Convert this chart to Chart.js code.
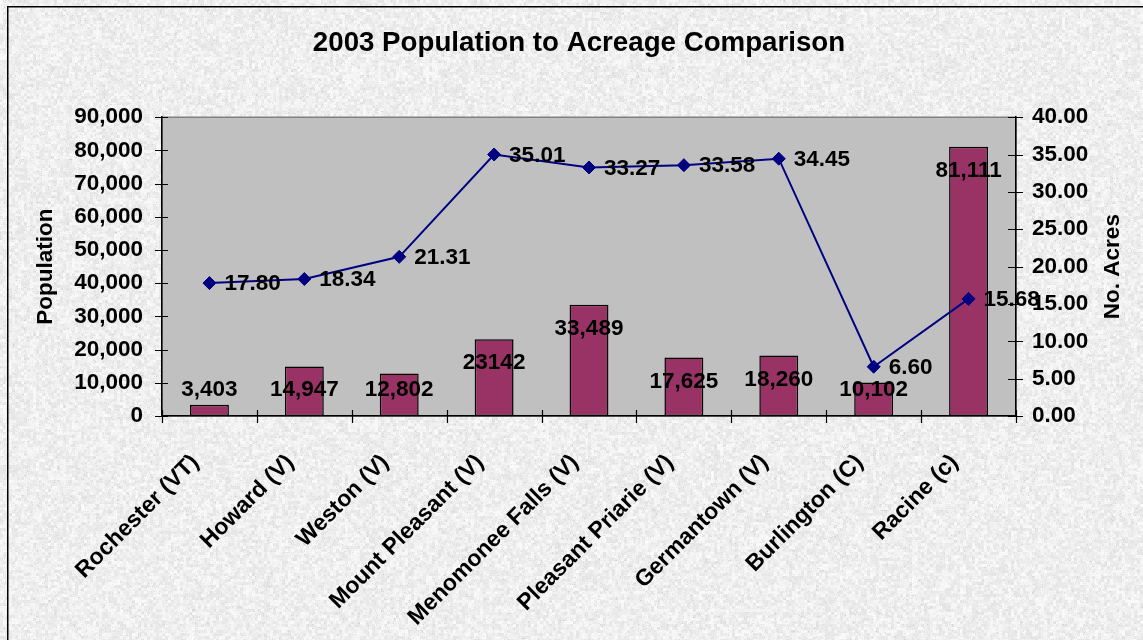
<!DOCTYPE html>
<html>
<head>
<meta charset="utf-8">
<title>2003 Population to Acreage Comparison</title>
<script src="https://cdn.jsdelivr.net/npm/chart.js@4.4.1/dist/chart.umd.min.js"></script>
<style>
  html, body { margin: 0; padding: 0; overflow: hidden; background: #ececec; }
</style>
</head>
<body>
<canvas id="myChart" width="1143" height="640"></canvas>
<script>
const places = ['Rochester (VT)', 'Howard (V)', 'Weston (V)', 'Mount Pleasant (V)', 'Menomonee Falls (V)',
    'Pleasant Priarie (V)', 'Germantown (V)', 'Burlington (C)', 'Racine (c)'];
const population = [3403, 14947, 12802, 23142, 33489, 17625, 18260, 10102, 81111];
const acres = [17.80, 18.34, 21.31, 35.01, 33.27, 33.58, 34.45, 6.60, 15.68];
// Mount Pleasant's figure was typed without a thousands separator
const noSeparator = ['Mount Pleasant (V)'];

const popTicks = [0, 10000, 20000, 30000, 40000, 50000, 60000, 70000, 80000, 90000];
const acreTicks = [0, 5, 10, 15, 20, 25, 30, 35, 40];

const FONT = "'Liberation Sans', Arial, sans-serif";

// granite style backdrop, built once
let seed = 20030;
function rnd() {
    seed = (seed * 1664525 + 1013904223) >>> 0;
    return seed / 4294967296;
}
function makeGranite(w, h) {
    const c = document.createElement('canvas');
    c.width = w; c.height = h;
    const g = c.getContext('2d');
    const img = g.createImageData(w, h);
    const cw = Math.ceil(w / 3) + 1;
    const coarse = [];
    for (let i = 0; i < cw * (Math.ceil(h / 3) + 1); i++) coarse.push(rnd());
    for (let y = 0; y < h; y++) {
        for (let x = 0; x < w; x++) {
            let v = 239 + (coarse[Math.floor(y / 3) * cw + Math.floor(x / 3)] - 0.5) * 20 + (rnd() - 0.5) * 10;
            if (rnd() < 0.04) v -= 18;
            v = Math.max(195, Math.min(255, v));
            const k = (y * w + x) * 4;
            img.data[k] = v; img.data[k + 1] = v; img.data[k + 2] = v; img.data[k + 3] = 255;
        }
    }
    g.putImageData(img, 0, 0);
    return c;
}
let granite = null;

const backdrop = {
    id: 'backdrop',
    beforeDraw(chart) {
        const {ctx, chartArea: a, width, height} = chart;
        if (!granite) granite = makeGranite(width, height);
        ctx.save();
        ctx.drawImage(granite, 0, 0);
        // outer frame
        ctx.strokeStyle = '#000';
        ctx.lineWidth = 1.5;
        ctx.beginPath();
        ctx.moveTo(7.75, height);
        ctx.lineTo(7.75, 6.75);
        ctx.lineTo(width, 6.75);
        ctx.stroke();
        // plot area
        ctx.fillStyle = '#c0c0c0';
        ctx.fillRect(a.left, a.top, a.right - a.left, a.bottom - a.top);
        ctx.strokeStyle = '#808080';
        ctx.lineWidth = 1.5;
        ctx.strokeRect(a.left, a.top, a.right - a.left, a.bottom - a.top);
        ctx.restore();
    }
};

// tick marks crossing each axis line
const crossTicks = {
    id: 'crossTicks',
    afterDatasetsDraw(chart) {
        const {ctx, chartArea: a, scales} = chart;
        ctx.save();
        ctx.strokeStyle = '#000';
        ctx.lineWidth = 1.2;
        ctx.beginPath();
        scales.y.ticks.forEach((t, i) => {
            const y = Math.round(scales.y.getPixelForTick(i)) + 0.5;
            ctx.moveTo(a.left - 7, y); ctx.lineTo(a.left + 6, y);
        });
        scales.y1.ticks.forEach((t, i) => {
            const y = Math.round(scales.y1.getPixelForTick(i)) + 0.5;
            ctx.moveTo(a.right - 8, y); ctx.lineTo(a.right + 7, y);
        });
        for (let k = 0; k <= places.length; k++) {
            const x = Math.round(scales.x.getPixelForValue(k - 0.5)) + 0.5;
            ctx.moveTo(x, a.bottom - 6); ctx.lineTo(x, a.bottom + 7);
        }
        ctx.stroke();
        ctx.restore();
    }
};

// value labels and the right axis title
const valueLabels = {
    id: 'valueLabels',
    afterDraw(chart) {
        const {ctx, chartArea: a} = chart;
        ctx.save();
        ctx.fillStyle = '#000';
        ctx.font = 'bold 22.5px ' + FONT;
        ctx.textBaseline = 'middle';

        ctx.textAlign = 'center';
        chart.getDatasetMeta(0).data.forEach((bar, i) => {
            const v = population[i];
            const txt = noSeparator.includes(places[i]) ? String(v) : v.toLocaleString('en-US');
            ctx.fillText(txt, bar.x, Math.min(bar.y + 24, a.bottom - 26));
        });

        ctx.textAlign = 'left';
        chart.getDatasetMeta(1).data.forEach((pt, i) => {
            ctx.fillText(acres[i].toFixed(2), pt.x + 15, pt.y + 1);
        });

        ctx.translate(1112.5, (a.top + a.bottom) / 2);
        ctx.rotate(-Math.PI / 2);
        ctx.textAlign = 'center';
        ctx.fillText('No. Acres', 0, 0);
        ctx.restore();
    }
};

const ctx = document.getElementById('myChart').getContext('2d');
const chart = new Chart(ctx, {
    type: 'bar',
    data: {
        labels: places,
        datasets: [{
            label: 'Population',
            data: population,
            yAxisID: 'y',
            backgroundColor: '#993366',
            borderColor: '#000',
            borderWidth: 1.5,
            borderSkipped: false,
            barPercentage: 0.41,
            categoryPercentage: 1,
            order: 2
        }, {
            type: 'line',
            label: 'No. Acres',
            data: acres,
            yAxisID: 'y1',
            borderColor: '#000080',
            borderWidth: 2,
            tension: 0,
            pointStyle: 'rectRot',
            pointRadius: 6.5,
            pointBackgroundColor: '#000080',
            pointBorderColor: '#000080',
            pointBorderWidth: 1,
            order: 1
        }]
    },
    options: {
        responsive: false,
        animation: false,
        events: [],
        layout: { padding: { left: 15, right: 0, top: 0, bottom: 0 }, autoPadding: false },
        plugins: {
            legend: { display: false },
            tooltip: { enabled: false },
            title: {
                display: true,
                text: '2003 Population to Acreage Comparison',
                color: '#000',
                font: { family: FONT, size: 27.7, weight: 'bold', lineHeight: 1.2 },
                padding: { top: 27, bottom: 57 }
            }
        },
        scales: {
            x: {
                offset: true,
                grid: { display: false },
                border: { display: true, color: '#000', width: 1.5 },
                ticks: {
                    color: '#000',
                    font: { family: FONT, size: 23, weight: 'bold' },
                    minRotation: 45,
                    maxRotation: 45,
                    autoSkip: false,
                    padding: 25,
                    labelOffset: -14
                },
                afterFit(s) { s.height = 224; s.paddingLeft = 0; s.paddingRight = 0; }
            },
            y: {
                position: 'left',
                min: 0,
                max: 90000,
                afterBuildTicks(s) { s.ticks = popTicks.map(v => ({ value: v })); },
                grid: { display: false },
                border: { display: true, color: '#000', width: 1.5 },
                ticks: {
                    color: '#000',
                    font: { family: FONT, size: 22.5, weight: 'bold' },
                    padding: 11,
                    callback: v => v.toLocaleString('en-US')
                },
                title: {
                    display: true,
                    text: 'Population',
                    color: '#000',
                    font: { family: FONT, size: 22.5, weight: 'bold', lineHeight: 1.2 },
                    padding: { top: 17.5, bottom: 0 }
                },
                afterFit(s) { s.width = 147; }
            },
            y1: {
                position: 'right',
                min: 0,
                max: 40,
                afterBuildTicks(s) { s.ticks = acreTicks.map(v => ({ value: v })); },
                grid: { display: false },
                border: { display: true, color: '#000', width: 1.5 },
                ticks: {
                    color: '#000',
                    font: { family: FONT, size: 22.5, weight: 'bold' },
                    padding: 8,
                    callback: v => v.toFixed(2)
                },
                afterFit(s) { s.width = 127; }
            }
        }
    },
    plugins: [backdrop, crossTicks, valueLabels]
});
</script>
</body>
</html>
